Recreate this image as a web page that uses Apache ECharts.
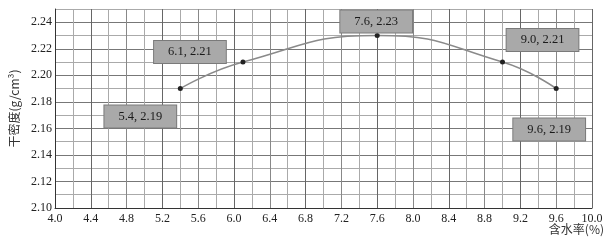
<!DOCTYPE html>
<html><head><meta charset="utf-8">
<script src="https://cdn.jsdelivr.net/npm/echarts@6/dist/echarts.min.js"></script>
<style>html,body{margin:0;padding:0;background:#fff}#c{width:616px;height:249px}</style>
</head><body><div id="c"></div>
<script>
const moisture = [5.4, 6.1, 7.6, 9.0, 9.6];
const dryDensity = [2.19, 2.21, 2.23, 2.21, 2.19];
const xAxisName = '含水率(%)';
const yAxisName = '干密度(g/cm³)';
const labelOffsets = [[-40, 28], [-53, -10], [-1, -14], [40, -22], [-7, 41]];

const serif = '"Liberation Serif", "DejaVu Serif", serif';
const data = moisture.map((x, i) => ({
  value: [x, dryDensity[i]],
  label: {
    show: true, position: 'inside', offset: labelOffsets[i],
    formatter: x.toFixed(1) + ', ' + dryDensity[i].toFixed(2),
    backgroundColor: '#a9a9a9', borderColor: '#7a7a7a', borderWidth: 1,
    padding: [5, 14, 4, 14], color: '#1a1a1a', fontFamily: serif, fontSize: 12.5
  }
}));

const chart = echarts.init(document.getElementById('c'));
chart.setOption({
  animation: false,
  backgroundColor: '#fff',
  grid: { left: 55, right: 24, top: 9, bottom: 41 },
  xAxis: {
    type: 'value', min: 4, max: 10, interval: 0.2,
    axisLine: { show: true, lineStyle: { color: '#333', width: 1 } },
    axisTick: { show: false },
    axisLabel: {
      margin: 5, color: '#222', fontFamily: serif, fontSize: 12,
      formatter: v => (Math.round(v * 10) % 4 === 0 ? v.toFixed(1) : '')
    },
    splitLine: { show: true, lineStyle: { color: ['#888', '#aaa', '#666', '#aaa'], width: 1 } }
  },
  yAxis: {
    type: 'value', min: 2.10, max: 2.25, interval: 0.01,
    name: yAxisName, nameLocation: 'middle', nameGap: 30,
    nameTextStyle: { color: '#333', fontSize: 12, fontFamily: '"Noto Sans CJK SC", sans-serif' },
    axisLine: { show: true, lineStyle: { color: '#333', width: 1 } },
    axisTick: { show: false },
    axisLabel: {
      margin: 3, color: '#222', fontFamily: serif, fontSize: 12,
      formatter: v => (Math.round(v * 100) % 2 === 0 ? v.toFixed(2) : '')
    },
    splitLine: { show: true, lineStyle: { color: ['#777', '#aaa'], width: 1 } }
  },
  graphic: [{
    type: 'text', right: 12, top: 223,
    style: { text: xAxisName, fill: '#333', fontSize: 12, fontFamily: '"Noto Sans CJK SC", sans-serif' }
  }],
  series: [{
    type: 'line', data: data, smooth: 0.5,
    symbol: 'circle', symbolSize: 5,
    itemStyle: { color: '#222' },
    lineStyle: { color: '#8a8a8a', width: 1.5 }
  }]
});
</script></body></html>
